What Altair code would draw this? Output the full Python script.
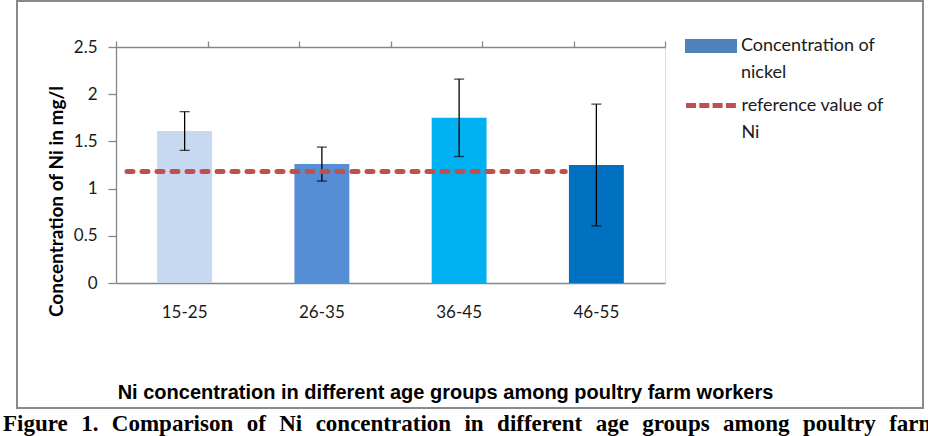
import altair as alt
import pandas as pd

# ---------------- data ----------------
age_groups = ["15-25", "26-35", "36-45", "46-55"]
ni_mean = [1.61, 1.26, 1.75, 1.25]
ni_err = [0.205, 0.18, 0.41, 0.645]
bar_colors = ["#C6D9F1", "#558ED5", "#00B0F0", "#0070C0"]
y_ticks = [0, 0.5, 1, 1.5, 2, 2.5]
top_ticks = [0, 1, 2, 3, 4, 5, 6]
ref_value = [1.18]
ref_start = [0.12]
ref_end = [4.91]
series_bar = ["Concentration of nickel"]
series_ref = ["reference value of Ni"]
x_title = "Ni concentration in different age groups among poultry farm workers"
y_title = "Concentration of Ni  in mg/l"
caption = ["Figure 1. Comparison of Ni concentration in different age groups among poultry farm"]

bars_df = pd.DataFrame({
    "age": age_groups,
    "mean": ni_mean,
    "lo": [m - e for m, e in zip(ni_mean, ni_err)],
    "hi": [m + e for m, e in zip(ni_mean, ni_err)],
})
ref_df = pd.DataFrame({"ref": ref_value, "start": ref_start, "end": ref_end, "series": series_ref})
carrier_df = pd.DataFrame({"series": series_bar})
# justified caption: widen the word gaps with non-breaking + hair spaces
caption_df = pd.DataFrame({"text": [c.replace(" ", " \u00a0\u200a") for c in caption]})
frame_df = pd.DataFrame({"k": [0]})

GRAY = "#868686"
TXT = "#1a1a1a"
FONT = "Lato"

y_axis = alt.Axis(
    values=y_ticks, format="~g", grid=False, domainColor=GRAY, domainWidth=1.3,
    tickColor=GRAY, tickSize=8, tickWidth=1.3, labelFont=FONT, labelFontSize=17,
    labelColor=TXT, labelPadding=11, title=y_title, titleFont=FONT, titleFontSize=19,
    titleFontWeight="bold", titleColor="#000000", titleAngle=270, titleAlign="center",
    titleBaseline="alphabetic", titleX=-54, titleY=154,
)
y_scale = alt.Scale(domain=[0, 2.5], nice=False)

x_enc = alt.X(
    "age:N", sort=age_groups,
    scale=alt.Scale(paddingInner=0.6, paddingOuter=0.3),
    axis=alt.Axis(
        orient="bottom", ticks=False, tickSize=0, domainColor=GRAY, domainWidth=1.3,
        labelAngle=0, labelFont=FONT, labelFontSize=17, labelColor=TXT,
        labelPadding=21, labelBaseline="top",
        title=x_title, titleFont="Liberation Sans", titleFontSize=20,
        titleFontWeight="bold", titleColor="#000000", titleAlign="center",
        titleBaseline="alphabetic", titleX=329, titleY=115,
    ),
)

bars = alt.Chart(bars_df).mark_bar().encode(
    x=x_enc,
    y=alt.Y("mean:Q", scale=y_scale, axis=y_axis),
    color=alt.Color("age:N", sort=age_groups,
                    scale=alt.Scale(domain=age_groups, range=bar_colors), legend=None),
)
err_rule = alt.Chart(bars_df).mark_rule(color="black", strokeWidth=1.3).encode(
    x=alt.X("age:N", sort=age_groups), y="lo:Q", y2="hi:Q")
cap_lo = alt.Chart(bars_df).mark_tick(color="black", size=10, thickness=1.3).encode(
    x=alt.X("age:N", sort=age_groups), y="lo:Q")
cap_hi = alt.Chart(bars_df).mark_tick(color="black", size=10, thickness=1.3).encode(
    x=alt.X("age:N", sort=age_groups), y="hi:Q")

inner = alt.layer(bars, err_rule, cap_lo, cap_hi)

split_expr = ("[slice(datum.label, 0, lastindexof(datum.label, ' ')), "
              "slice(datum.label, lastindexof(datum.label, ' ') + 1)]")

carrier = alt.Chart(carrier_df).mark_square(filled=True, size=0).encode(
    color=alt.Color("series:N", scale=alt.Scale(range=["#4F81BD"]),
                    legend=alt.Legend(
                        title=None, orient="none", legendX=569, legendY=-27,
                        symbolType="M-1,-0.27L1,-0.27L1,0.27L-1,0.27Z",
                        symbolSize=2704, symbolOpacity=1, symbolStrokeWidth=0,
                        symbolFillColor="#4F81BD",
                        labelFont=FONT, labelFontSize=18, labelColor=TXT,
                        labelOffset=4, labelLimit=300, labelBaseline="middle",
                        labelExpr=split_expr, padding=0, offset=0)),
)

ref_line = alt.Chart(ref_df).mark_rule(strokeWidth=5, strokeDash=[6, 9], strokeCap="round").encode(
    x=alt.X("start:Q", scale=alt.Scale(domain=[0, 6], nice=False),
            axis=alt.Axis(orient="top", values=top_ticks, labels=False, tickSize=6,
                          tickColor=GRAY, tickWidth=1.3, domainColor=GRAY, domainWidth=1.3,
                          grid=False, title=None)),
    x2="end:Q",
    y=alt.Y("ref:Q", scale=y_scale, axis=y_axis),
    stroke=alt.Stroke("series:N", scale=alt.Scale(range=["#C0504D"]),
                      legend=alt.Legend(
                          title=None, orient="none", legendX=567.5, legendY=30,
                          symbolType="stroke", symbolSize=2704, symbolStrokeWidth=5,
                          symbolDash=[10, 3.3], symbolStrokeColor="#C0504D",
                          labelFont=FONT, labelFontSize=18, labelColor=TXT,
                          labelOffset=1, labelLimit=300, labelBaseline="middle",
                          labelExpr=split_expr, padding=0, offset=0)),
)

frame = alt.Chart(frame_df).mark_rect(filled=False, stroke="#8a8a8a", strokeWidth=2).encode(
    x=alt.value(-99), x2=alt.value(807), y=alt.value(-46), y2=alt.value(361))

cap_text = alt.Chart(caption_df).mark_text(
    font="Liberation Serif", fontSize=23, fontWeight="bold", align="left",
    baseline="alphabetic", color="#000000").encode(
    text="text:N", x=alt.value(-113), y=alt.value(384))

chart = alt.layer(inner, carrier, ref_line, frame, cap_text).resolve_scale(
    x="independent", color="independent"
).properties(
    width=549, height=236,
    autosize=alt.AutoSizeParams(type="none"),
    padding={"left": 116, "top": 47, "right": 263, "bottom": 153},
    background="white",
).configure_view(stroke=None).configure(style={"guide-label": {"lineHeight": 27}})

chart.save("out.html", embed_options={"renderer": "svg", "actions": False})
